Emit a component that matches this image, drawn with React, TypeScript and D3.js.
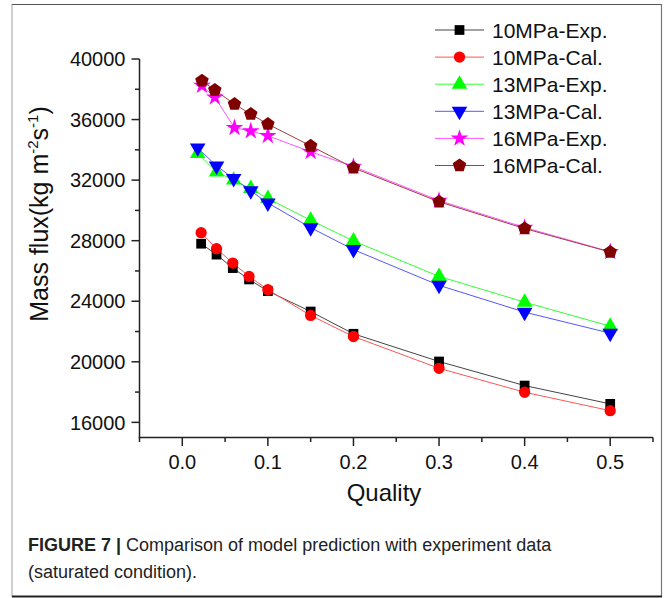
import React, { useRef, useEffect } from "react";
import * as d3 from "d3";

// quality (x) per pressure group
const quality10 = [0.022, 0.04, 0.059, 0.078, 0.1, 0.15, 0.2, 0.3, 0.4, 0.5];
const quality13 = [0.018, 0.04, 0.06, 0.08, 0.1, 0.15, 0.2, 0.3, 0.4, 0.5];
const quality16 = [0.023, 0.038, 0.061, 0.08, 0.1, 0.15, 0.2, 0.3, 0.4, 0.5];

// mass flux values (kg m-2 s-1)
const exp10 = [27800, 27080, 26190, 25440, 24670, 23320, 21850, 20020, 18430, 17220];
const cal10 = [28530, 27470, 26520, 25640, 24760, 23060, 21670, 19570, 17990, 16770];
const exp13 = [33760, 32540, 32000, 31440, 30780, 29350, 27980, 25640, 23940, 22350];
const cal13 = [34130, 32940, 32110, 31290, 30490, 28860, 27410, 25050, 23280, 21890];
const exp16 = [38240, 37470, 35460, 35240, 34930, 33870, 32900, 30650, 28870, 27270];
const cal16 = [38560, 37950, 37020, 36360, 35700, 34260, 32810, 30570, 28800, 27250];

const seriesNames = ["10MPa-Exp.", "10MPa-Cal.", "13MPa-Exp.", "13MPa-Cal.", "16MPa-Exp.", "16MPa-Cal."];
const xTicks = [0, 0.1, 0.2, 0.3, 0.4, 0.5];
const yTicks = [16000, 20000, 24000, 28000, 32000, 36000, 40000];

// pentagon marker (Origin style)
const symbolPentagon = {
  draw(context: any, size: number) {
    const r = Math.sqrt(size / 2.378);
    for (let i = 0; i < 5; i++) {
      const a = -Math.PI / 2 + (i * 2 * Math.PI) / 5;
      const px = r * Math.cos(a);
      const py = r * Math.sin(a);
      if (i === 0) context.moveTo(px, py);
      else context.lineTo(px, py);
    }
    context.closePath();
  },
};

const FONT = "'Liberation Sans', Arial, Helvetica, sans-serif";

const App: React.FC = () => {
  const svgRef = useRef<SVGSVGElement | null>(null);

  useEffect(() => {
    const width = 664;
    const height = 598;
    const svg = d3.select(svgRef.current);
    svg.selectAll("*").remove();

    const x = d3.scaleLinear().domain([-0.05, 0.55]).range([139.5, 653]);
    const y = d3.scaleLinear().domain([15000, 40000]).range([437.5, 59]);

    const series = [
      { name: seriesNames[0], xs: quality10, ys: exp10, color: "#000000", line: "#444444", sym: d3.symbolSquare, size: 95, rot: 0 },
      { name: seriesNames[1], xs: quality10, ys: cal10, color: "#ff0000", line: "#ff5555", sym: d3.symbolCircle, size: 100, rot: 0 },
      { name: seriesNames[2], xs: quality13, ys: exp13, color: "#00ff00", line: "#33ff33", sym: d3.symbolTriangle, size: 105, rot: 0 },
      { name: seriesNames[3], xs: quality13, ys: cal13, color: "#0000ff", line: "#5555ff", sym: d3.symbolTriangle, size: 105, rot: 180 },
      { name: seriesNames[4], xs: quality16, ys: exp16, color: "#ff00ff", line: "#ff55ff", sym: d3.symbolStar, size: 95, rot: 0 },
      { name: seriesNames[5], xs: quality16, ys: cal16, color: "#800000", line: "#a04040", sym: symbolPentagon, size: 120, rot: 0 },
    ];

    // frame
    svg.append("line").attr("x1", 12).attr("x2", 12).attr("y1", 4).attr("y2", 597).attr("stroke", "#c0c0c0").attr("stroke-width", 1.5);
    svg.append("line").attr("x1", 12).attr("x2", 662).attr("y1", 4.5).attr("y2", 4.5).attr("stroke", "#555").attr("stroke-width", 1.2);
    svg.append("line").attr("x1", 661.5).attr("x2", 661.5).attr("y1", 4).attr("y2", 597).attr("stroke", "#777").attr("stroke-width", 1.2);
    svg.append("line").attr("x1", 12).attr("x2", 662).attr("y1", 596.5).attr("y2", 596.5).attr("stroke", "#222").attr("stroke-width", 2);

    // axes
    const axisColor = "#222";
    const yAxisG = svg.append("g").attr("transform", `translate(${x(-0.05)},0)`);
    yAxisG.append("line").attr("y1", y(40000)).attr("y2", y(15000) + 0.5).attr("stroke", axisColor).attr("stroke-width", 1.5);
    d3.range(16000, 40001, 2000).forEach((v) => {
      const major = v % 4000 === 0;
      yAxisG.append("line").attr("x1", major ? -8 : -4.5).attr("x2", 0).attr("y1", y(v)).attr("y2", y(v)).attr("stroke", axisColor).attr("stroke-width", 1.5);
    });
    yAxisG.selectAll("text.tick").data(yTicks).join("text")
      .attr("x", -14).attr("y", (d) => y(d)).attr("dy", "0.36em")
      .attr("text-anchor", "end").attr("font-size", 20).attr("font-family", FONT).attr("fill", "#111")
      .text((d) => String(d));

    const xAxisG = svg.append("g").attr("transform", `translate(0,${y(15000)})`);
    xAxisG.append("line").attr("x1", x(-0.05) - 0.75).attr("x2", x(0.55)).attr("stroke", axisColor).attr("stroke-width", 1.5);
    d3.range(-0.05, 0.551, 0.05).forEach((v) => {
      const major = Math.abs(Math.round(v * 10) - v * 10) < 1e-6;
      xAxisG.append("line").attr("x1", x(v)).attr("x2", x(v)).attr("y1", 0).attr("y2", major ? 8.5 : 4.5).attr("stroke", axisColor).attr("stroke-width", 1.5);
    });
    xAxisG.selectAll("text.tick").data(xTicks).join("text")
      .attr("x", (d) => x(d)).attr("y", 31)
      .attr("text-anchor", "middle").attr("font-size", 20).attr("font-family", FONT).attr("fill", "#111")
      .text((d) => d.toFixed(1));

    // axis titles
    svg.append("text").attr("x", 384).attr("y", 501).attr("text-anchor", "middle")
      .attr("font-size", 24).attr("font-family", FONT).attr("fill", "#111").text("Quality");

    const yt = svg.append("text").attr("transform", "translate(48,214) rotate(-90)")
      .attr("text-anchor", "middle").attr("font-size", 25).attr("font-family", FONT).attr("fill", "#111");
    yt.append("tspan").text("Mass flux(kg m");
    yt.append("tspan").attr("font-size", 15).attr("dy", -10).text("-2");
    yt.append("tspan").attr("dy", 10).text("s");
    yt.append("tspan").attr("font-size", 15).attr("dy", -10).text("-1");
    yt.append("tspan").attr("dy", 10).text(")");

    // lines + markers
    const line = d3.line<[number, number]>().x((d) => x(d[0])).y((d) => y(d[1]));
    series.forEach((s) => {
      const pts = s.xs.map((q, i) => [q, s.ys[i]] as [number, number]);
      svg.append("path").attr("d", line(pts)!).attr("fill", "none").attr("stroke", s.line).attr("stroke-width", 1);
    });
    series.forEach((s) => {
      const sym = d3.symbol().type(s.sym as any).size(s.size);
      svg.append("g").selectAll("path").data(s.xs.map((q, i) => [q, s.ys[i]])).join("path")
        .attr("d", sym()!)
        .attr("transform", (d) => `translate(${x(d[0])},${y(d[1])}) rotate(${s.rot})`)
        .attr("fill", s.color);
    });

    // legend
    const legend = svg.append("g").attr("transform", "translate(435,30)");
    series.forEach((s, i) => {
      const row = legend.append("g").attr("transform", `translate(0,${i * 27.1})`);
      row.append("line").attr("x1", 0).attr("x2", 49).attr("stroke", s.line).attr("stroke-width", 1);
      row.append("path").attr("d", d3.symbol().type(s.sym as any).size(s.size)()!)
        .attr("transform", `translate(24.5,0) rotate(${s.rot})`).attr("fill", s.color);
      row.append("text").attr("x", 57).attr("dy", "0.36em").attr("font-size", 21).attr("font-family", FONT).attr("fill", "#111").text(s.name);
    });

    // caption
    const cap1 = svg.append("text").attr("x", 28).attr("y", 551).attr("font-size", 18).attr("font-family", FONT).attr("fill", "#222");
    cap1.append("tspan").attr("font-weight", "bold").text("FIGURE 7 | ");
    cap1.append("tspan").text("Comparison of model prediction with experiment data");
    svg.append("text").attr("x", 28).attr("y", 578).attr("font-size", 18).attr("font-family", FONT).attr("fill", "#222")
      .text("(saturated condition).");

    svg.attr("width", width).attr("height", height);
  }, []);

  return (
    <svg
      ref={svgRef}
      width={664}
      height={598}
      style={{ position: "absolute", left: 0, top: 0, display: "block", background: "#fff" }}
    />
  );
};

export default App;
